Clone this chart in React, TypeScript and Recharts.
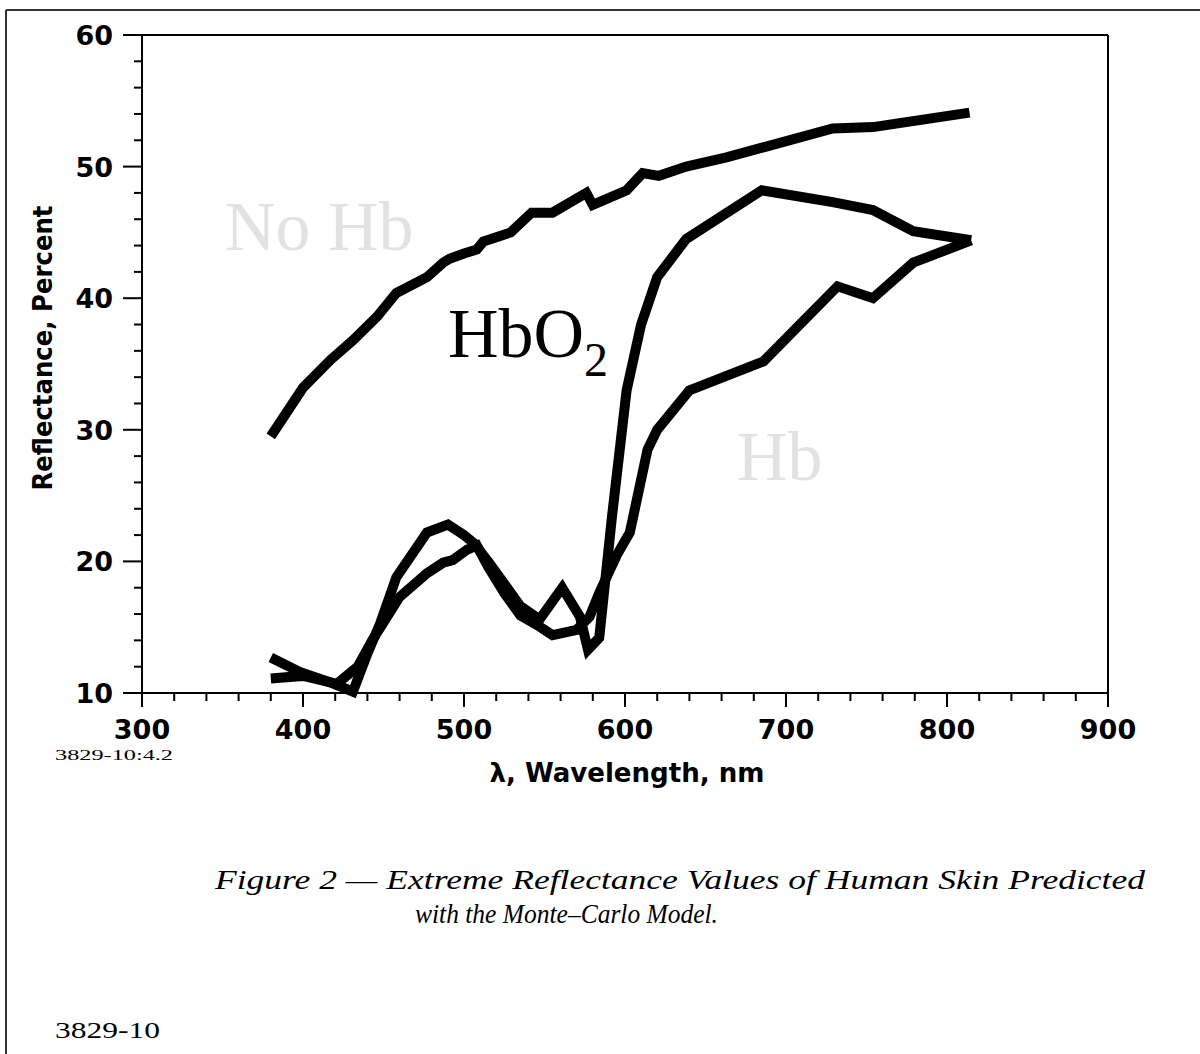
import { LineChart, Line, XAxis, YAxis, ReferenceLine } from 'recharts';

// wavelength (nm) / reflectance (%)
const noHbNm = [380, 400, 417, 431, 446, 458, 477, 487, 491, 500, 508, 512, 529, 542, 555, 576, 580, 601, 611, 621, 638, 663, 684, 729, 754, 814];
const noHbR = [29.5, 33.2, 35.3, 36.8, 38.6, 40.4, 41.6, 42.7, 43.0, 43.4, 43.7, 44.3, 45.0, 46.5, 46.5, 48.0, 47.1, 48.2, 49.5, 49.3, 50.0, 50.7, 51.4, 52.9, 53.0, 54.1];

const hbo2Nm = [380, 398, 417, 431, 440, 448, 458, 477, 490, 500, 506, 515, 525, 535, 547, 561, 572, 577, 584, 592, 601, 610, 620, 638, 685, 729, 754, 779, 815];
const hbo2R = [12.7, 11.6, 10.8, 10.1, 13.0, 15.3, 18.8, 22.2, 22.8, 22.0, 21.4, 20.0, 18.3, 16.6, 15.6, 18.0, 15.8, 13.3, 14.2, 23.5, 33.0, 38.0, 41.6, 44.5, 48.2, 47.3, 46.7, 45.1, 44.4];

const hbNm = [380, 400, 421, 434, 443, 460, 477, 487, 493, 502, 508, 515, 525, 535, 545, 555, 570, 578, 584, 595, 603, 614, 620, 640, 686, 732, 754, 779, 815];
const hbR = [11.1, 11.3, 10.7, 12.0, 14.0, 17.3, 19.1, 19.9, 20.1, 20.9, 21.2, 19.6, 17.6, 15.9, 15.2, 14.4, 14.8, 15.8, 17.6, 20.5, 22.2, 28.5, 30.0, 33.0, 35.2, 40.9, 40.0, 42.7, 44.4];

const xTicks = [300, 320, 340, 360, 380, 400, 420, 440, 460, 480, 500, 520, 540, 560, 580, 600, 620, 640, 660, 680, 700, 720, 740, 760, 780, 800, 820, 840, 860, 880, 900];
const xLabels = [300, 400, 500, 600, 700, 800, 900];
const yTicks = [10, 12, 14, 16, 18, 20, 22, 24, 26, 28, 30, 32, 34, 36, 38, 40, 42, 44, 46, 48, 50, 52, 54, 56, 58, 60];
const yLabels = [10, 20, 30, 40, 50, 60];

const toRows = (nm: number[], r: number[]) => nm.map((v, i) => ({ nm: v, r: r[i] }));

const tickFont = { fontFamily: 'DejaVu Sans', fontWeight: 'bold' as const, fontSize: 27, fill: '#000' };

function XTick({ x, y, payload }: any) {
  const major = xLabels.includes(payload.value);
  return (
    <g>
      <line x1={x} x2={x} y1={y} y2={y + (major ? 14 : 8)} stroke="#000" strokeWidth={2} />
      {major && (
        <text x={x} y={y + 46} textAnchor="middle" {...tickFont}>
          {payload.value}
        </text>
      )}
    </g>
  );
}

function YTick({ x, y, payload }: any) {
  const major = yLabels.includes(payload.value);
  return (
    <g>
      <line x1={x - (major ? 19 : 8)} x2={x} y1={y} y2={y} stroke="#000" strokeWidth={2} />
      {major && (
        <text x={x - 29} y={y + 10} textAnchor="end" {...tickFont}>
          {payload.value}
        </text>
      )}
    </g>
  );
}

export default function App() {
  const lineProps = {
    type: 'linear' as const,
    dataKey: 'r',
    stroke: '#000',
    strokeWidth: 10,
    dot: false,
    isAnimationActive: false,
  };

  return (
    <div style={{ position: 'absolute', left: 0, top: 0, width: 1200, height: 1054, background: '#fff' }}>
      <LineChart width={1200} height={1054} margin={{ top: 35, right: 92, bottom: 331, left: 82 }}>
        <XAxis
          dataKey="nm"
          type="number"
          domain={[300, 900]}
          ticks={xTicks}
          interval={0}
          tickSize={0}
          tickMargin={0}
          height={30}
          axisLine={{ stroke: '#000', strokeWidth: 2 }}
          tick={<XTick />}
        />
        <YAxis
          type="number"
          domain={[10, 60]}
          ticks={yTicks}
          interval={0}
          tickSize={0}
          tickMargin={0}
          width={60}
          axisLine={{ stroke: '#000', strokeWidth: 2 }}
          tick={<YTick />}
        />
        <ReferenceLine x={900} stroke="#000" strokeWidth={2} />
        <ReferenceLine y={60} stroke="#000" strokeWidth={2} />
        <Line {...lineProps} data={toRows(noHbNm, noHbR)} name="No Hb" />
        <Line {...lineProps} data={toRows(hbo2Nm, hbo2R)} name="HbO2" />
        <Line {...lineProps} data={toRows(hbNm, hbR)} name="Hb" />
      </LineChart>

      <svg width={1200} height={1054} style={{ position: 'absolute', left: 0, top: 0, pointerEvents: 'none' }}>
        <line x1={6} y1={10} x2={1200} y2={10} stroke="#333" strokeWidth={2} />
        <line x1={6} y1={10} x2={6} y2={1054} stroke="#333" strokeWidth={2} />

        <text x={225} y={250} fontFamily="Liberation Serif" fontSize={70} fill="#e2e2e2">No Hb</text>
        <text x={448} y={357} fontFamily="Liberation Serif" fontSize={70} fill="#000">
          HbO<tspan fontSize={48} dy={19}>2</tspan>
        </text>
        <text x={737} y={480} fontFamily="Liberation Serif" fontSize={70} fill="#e2e2e2">Hb</text>

        <text
          transform="translate(52,348) rotate(-90)"
          textAnchor="middle"
          fontFamily="DejaVu Sans Condensed"
          fontWeight="bold"
          fontSize={26}
          textLength={285}
          lengthAdjust="spacingAndGlyphs"
        >
          Reflectance, Percent
        </text>
        <text
          x={627}
          y={782}
          textAnchor="middle"
          fontFamily="DejaVu Sans Condensed"
          fontWeight="bold"
          fontSize={26}
          textLength={275}
          lengthAdjust="spacingAndGlyphs"
        >
          λ, Wavelength, nm
        </text>

        <text x={55} y={760} fontFamily="Liberation Serif" fontSize={15} textLength={118} lengthAdjust="spacingAndGlyphs">
          3829-10:4.2
        </text>

        <text x={215} y={889} fontFamily="Liberation Serif" fontStyle="italic" fontSize={28} textLength={930} lengthAdjust="spacingAndGlyphs">
          Figure 2 — Extreme Reflectance Values of Human Skin Predicted
        </text>
        <text x={415} y={923} fontFamily="Liberation Serif" fontStyle="italic" fontSize={28} textLength={303} lengthAdjust="spacingAndGlyphs">
          with the Monte–Carlo Model.
        </text>

        <text x={55} y={1038} fontFamily="Liberation Serif" fontSize={24} textLength={105} lengthAdjust="spacingAndGlyphs">
          3829-10
        </text>
      </svg>
    </div>
  );
}
